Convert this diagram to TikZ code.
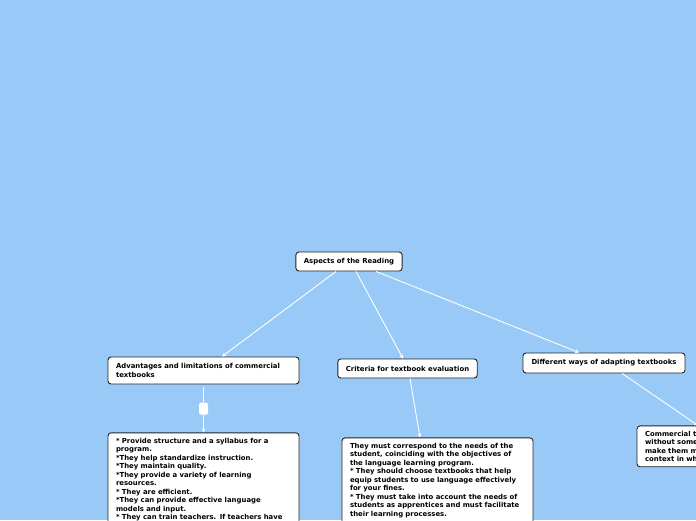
\documentclass[tikz,border=0pt]{standalone}
\usepackage{fontspec}
\setmainfont{DejaVu Sans}
\usetikzlibrary{positioning, arrows.meta}
\definecolor{bgblue}{RGB}{153,201,246}
\definecolor{boxline}{RGB}{35,35,35}

\begin{document}
\begin{tikzpicture}[x=1pt, y=-1pt,
    topic/.style={rectangle, rounded corners=3pt, draw=boxline, line width=0.9pt, fill=white, font=\fontsize{6.9}{8.5}\selectfont\bfseries, align=left, inner xsep=8pt, inner ysep=4pt},
    detail/.style={topic, text width=175pt, anchor=north, inner ysep=5pt},
    link/.style={draw=white, line width=0.9pt, -{Stealth[length=4pt, width=4pt]}},
    toggle/.style={rectangle, rounded corners=1.5pt, fill=white, minimum width=9pt, minimum height=12pt, inner sep=0pt}
]

% fondo
\clip (0,0) rectangle (696,520);
\fill[bgblue] (0,0) rectangle (696,520);

% tema central
\node[topic, minimum width=106pt, minimum height=19pt] (root) at (349,261.5) {Aspects of the Reading};

% subtemas
\node[topic, text width=175pt, minimum height=27pt] (advA) at (203.5,370.5) {Advantages and limitations of commercial\\textbooks};
\node[topic, minimum width=139pt, minimum height=19pt] (critB) at (407.5,368.5) {Criteria for textbook evaluation};
\node[topic, minimum width=162pt, minimum height=20pt] (adaptC) at (604,363) {Different ways of adapting textbooks};

% boton
\node[toggle, below=18pt of advA] (toggleA) {};

% detalles
\node[detail, below=48pt of advA] (advantList) {* Provide structure and a syllabus for a\\program.\\{}*They help standardize instruction.\\{}*They maintain quality.\\{}*They provide a variety of learning\\resources.\\{}* They are efficient.\\{}*They can provide effective language\\models and input.\\{}* They can train teachers. If teachers have\\\phantom{x}};
\node[detail, below=59pt of critB, xshift=30pt] (critList) {They must correspond to the needs of the\\student, coinciding with the objectives of\\the language learning program.\\{}* They should choose textbooks that help\\equip students to use language effectively\\for your fines.\\{}* They must take into account the needs of\\students as apprentices and must facilitate\\their learning processes.\\\phantom{x}};
\node[detail, below=52pt of adaptC, xshift=128.5pt] (adaptList) {Commercial textbooks\\without some\\make them more\\context in which};

% conexiones
\draw[link] ([xshift=-13pt]root.south) -- ([xshift=18.5pt]advA.north);
\draw[link] ([xshift=7pt]root.south) -- ([xshift=-4.5pt]critB.north);
\draw[link] ([xshift=27pt]root.south) -- ([xshift=-25pt]adaptC.north);
\draw[white, line width=0.9pt] ([yshift=-3pt]advA.south) -- (toggleA.north);
\draw[link] (toggleA.south) -- (advantList.north);
\draw[link] ([xshift=2.5pt]critB.south) -- ([xshift=-17.5pt]critList.north);
\draw[link] ([xshift=18pt]adaptC.south) -- ([xshift=-34.5pt]adaptList.north);

\end{tikzpicture}
\end{document}
